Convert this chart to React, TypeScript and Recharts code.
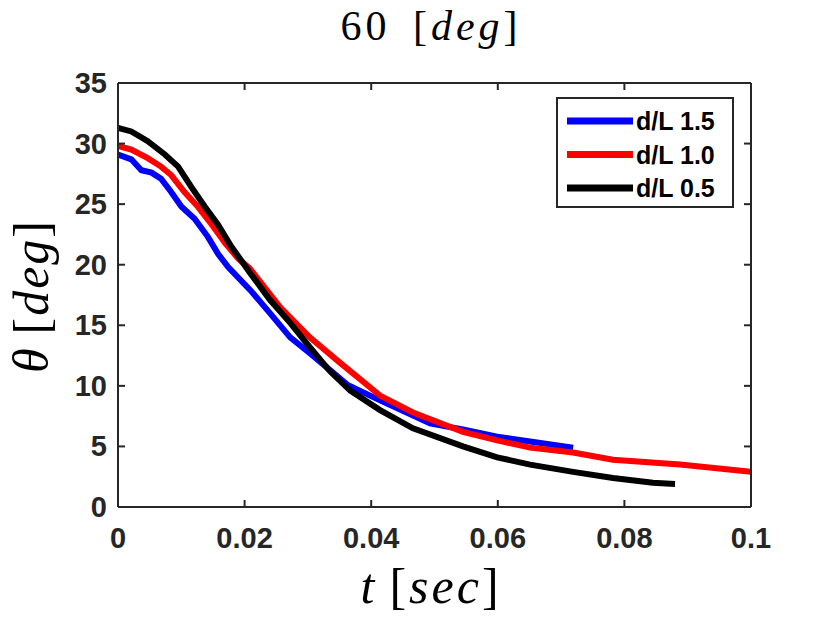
import React from "react";
import { LineChart, Line, XAxis, YAxis } from "recharts";

const blueT = [0, 0.0021, 0.0037, 0.0053, 0.0068, 0.0084, 0.01, 0.0121, 0.0142, 0.0158, 0.0174, 0.0209, 0.024, 0.0272, 0.0303, 0.0335, 0.0362, 0.0414, 0.0493, 0.0545, 0.0599, 0.0651, 0.0719];
const blueV = [29.1, 28.7, 27.8, 27.6, 27.1, 26.0, 24.8, 23.8, 22.3, 20.9, 19.8, 17.9, 16.0, 14.0, 12.7, 11.3, 10.1, 8.8, 6.9, 6.4, 5.8, 5.4, 4.9];

const redT = [0, 0.0021, 0.0047, 0.0068, 0.0084, 0.0105, 0.0126, 0.0147, 0.0169, 0.019, 0.0208, 0.0256, 0.0303, 0.0351, 0.0414, 0.0466, 0.0545, 0.0599, 0.0651, 0.0719, 0.0782, 0.0888, 0.1];
const redV = [29.8, 29.5, 28.8, 28.1, 27.4, 26.0, 24.8, 23.4, 21.8, 20.5, 19.7, 16.5, 14.0, 11.9, 9.2, 7.8, 6.2, 5.5, 4.9, 4.5, 3.9, 3.5, 2.9];

const blackT = [0, 0.0021, 0.0047, 0.0074, 0.0095, 0.0116, 0.0137, 0.0158, 0.0179, 0.0209, 0.024, 0.0272, 0.0303, 0.0335, 0.0367, 0.0414, 0.0466, 0.0545, 0.0599, 0.0651, 0.0719, 0.0782, 0.0845, 0.088];
const blackV = [31.3, 31.0, 30.2, 29.1, 28.1, 26.4, 24.8, 23.3, 21.5, 19.3, 17.1, 15.2, 13.2, 11.2, 9.6, 8.0, 6.5, 5.0, 4.1, 3.5, 2.9, 2.4, 2.0, 1.9];

const xTicks = [0, 0.02, 0.04, 0.06, 0.08, 0.1];
const yTicks = [0, 5, 10, 15, 20, 25, 30, 35];
const seriesNames = ["d/L 1.5", "d/L 1.0", "d/L 0.5"];
const seriesColors = ["#0000ff", "#ff0000", "#000000"];

const toRows = (ts: number[], vs: number[]) => ts.map((t, i) => ({ t, v: vs[i] }));
const seriesData = [toRows(blueT, blueV), toRows(redT, redV), toRows(blackT, blackV)];

const AX = "#262626";
const TICK_FONT = "Liberation Sans, Arial, sans-serif";
const SERIF = "Liberation Serif, DejaVu Serif, serif";

const BottomTick = (p: any) => (
  <g>
    <line x1={p.x} x2={p.x} y1={p.y} y2={p.y - 7} stroke={AX} strokeWidth={2} />
    <text x={p.x} y={p.y + 41} textAnchor="middle" style={{ fontFamily: TICK_FONT, fontWeight: "bold", fontSize: 29 }} fill={AX}>
      {String(p.payload.value)}
    </text>
  </g>
);
const TopTick = (p: any) => (
  <line x1={p.x} x2={p.x} y1={p.y} y2={p.y + 7} stroke={AX} strokeWidth={2} />
);
const LeftTick = (p: any) => (
  <g>
    <line x1={p.x} x2={p.x + 7} y1={p.y} y2={p.y} stroke={AX} strokeWidth={2} />
    <text x={p.x - 11} y={p.y + 10} textAnchor="end" style={{ fontFamily: TICK_FONT, fontWeight: "bold", fontSize: 29 }} fill={AX}>
      {String(p.payload.value)}
    </text>
  </g>
);
const RightTick = (p: any) => (
  <line x1={p.x} x2={p.x - 7} y1={p.y} y2={p.y} stroke={AX} strokeWidth={2} />
);

const LegendSvg = () => (
  <g>
    <rect x={557} y={98} width={176} height={109} fill="#fff" stroke={AX} strokeWidth={2} />
    {seriesNames.map((n, i) => {
      const cy = 121 + i * 33.5;
      return (
        <g key={n}>
          <line x1={567} x2={633} y1={cy} y2={cy} stroke={seriesColors[i]} strokeWidth={7} />
          <text x={636} y={cy + 9} style={{ fontFamily: TICK_FONT, fontWeight: "bold", fontSize: 25 }} fill="#000">
            {n}
          </text>
        </g>
      );
    })}
  </g>
);

export default function App() {
  return (
    <div style={{ position: "absolute", left: 0, top: 0, width: 830, height: 623, background: "#fff" }}>
      <LineChart width={830} height={623} margin={{ top: 82, right: 78, left: 58, bottom: 86 }}>
        <XAxis
          xAxisId="b"
          dataKey="t"
          type="number"
          domain={[0, 0.1]}
          ticks={xTicks}
          orientation="bottom"
          height={30}
          tickSize={0}
          tickMargin={0}
          tickLine={false}
          tick={<BottomTick />}
          axisLine={{ stroke: AX, strokeWidth: 2 }}
          allowDataOverflow
        />
        <XAxis
          xAxisId="t"
          dataKey="t"
          type="number"
          domain={[0, 0.1]}
          ticks={xTicks}
          orientation="top"
          height={1}
          tickSize={0}
          tickMargin={0}
          tickLine={false}
          tick={<TopTick />}
          axisLine={{ stroke: AX, strokeWidth: 2 }}
          allowDataOverflow
        />
        <YAxis
          yAxisId="l"
          type="number"
          domain={[0, 35]}
          ticks={yTicks}
          orientation="left"
          width={60}
          tickSize={0}
          tickMargin={0}
          tickLine={false}
          tick={<LeftTick />}
          axisLine={{ stroke: AX, strokeWidth: 2 }}
          allowDataOverflow
        />
        <YAxis
          yAxisId="r"
          type="number"
          domain={[0, 35]}
          ticks={yTicks}
          orientation="right"
          width={1}
          tickSize={0}
          tickMargin={0}
          tickLine={false}
          tick={<RightTick />}
          axisLine={{ stroke: AX, strokeWidth: 2 }}
          allowDataOverflow
        />
        <Line
          xAxisId="t"
          yAxisId="r"
          data={seriesData[1]}
          dataKey="v"
          stroke="none"
          strokeWidth={0}
          dot={false}
          activeDot={false}
          legendType="none"
          isAnimationActive={false}
        />
        {seriesData.map((d, i) => (
          <Line
            key={seriesNames[i]}
            xAxisId="b"
            yAxisId="l"
            data={d}
            dataKey="v"
            name={seriesNames[i]}
            stroke={seriesColors[i]}
            strokeWidth={6}
            dot={false}
            type="linear"
            isAnimationActive={false}
          />
        ))}
        <LegendSvg />
        <text x={431} y={40} textAnchor="middle" style={{ fontFamily: SERIF, fontSize: 42, letterSpacing: 4 }} fill="#000">
          <tspan>60 </tspan>
          <tspan dx={8}>[</tspan>
          <tspan fontStyle="italic">deg</tspan>
          <tspan>]</tspan>
        </text>
        <text x={431} y={603} textAnchor="middle" style={{ fontFamily: SERIF, fontSize: 50, letterSpacing: 3 }} fill="#000">
          <tspan fontStyle="italic">t</tspan>
          <tspan dx={12}>[</tspan>
          <tspan fontStyle="italic">sec</tspan>
          <tspan>]</tspan>
        </text>
        <text
          x={48}
          y={296}
          transform="rotate(-90 48 296)"
          textAnchor="middle"
          style={{ fontFamily: SERIF, fontSize: 50, letterSpacing: 2 }}
          fill="#000"
        >
          <tspan fontStyle="italic">θ</tspan>
          <tspan dx={12}>[</tspan>
          <tspan fontStyle="italic">deg</tspan>
          <tspan>]</tspan>
        </text>
      </LineChart>
    </div>
  );
}
